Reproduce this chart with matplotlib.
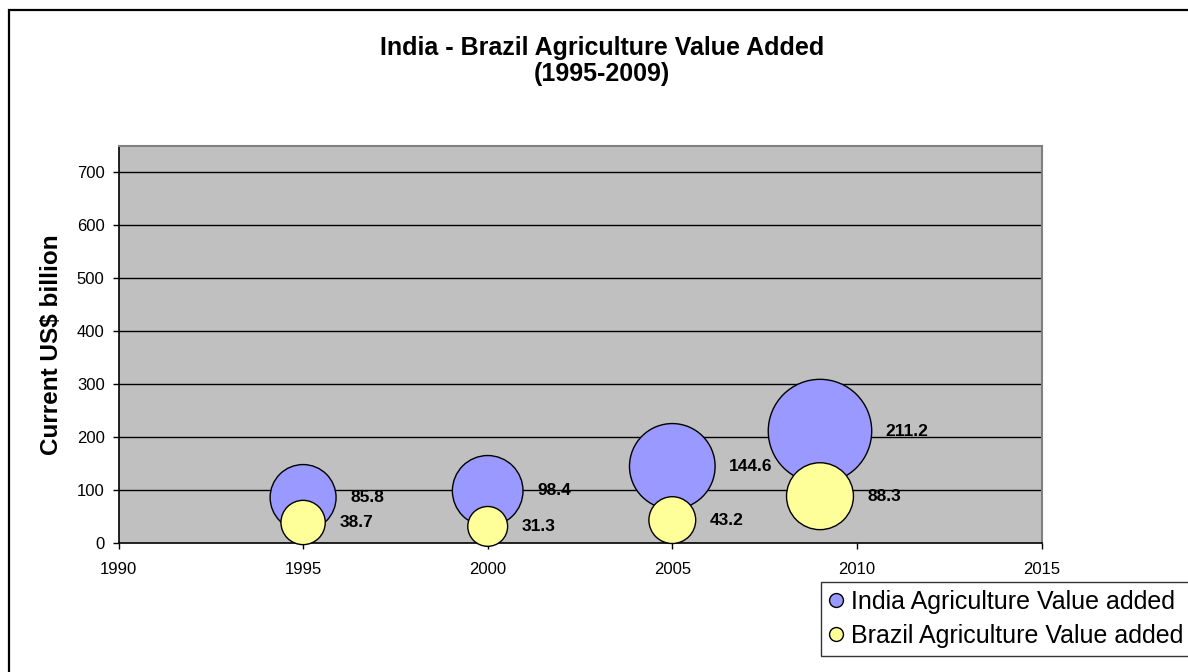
import matplotlib
matplotlib.use("Agg")
import matplotlib.pyplot as plt
from matplotlib.lines import Line2D
from matplotlib.patches import Rectangle
import numpy as np

plt.rcParams['font.family'] = ['Liberation Sans', 'DejaVu Sans']

# Agriculture value added, current US$ billion
years = [1995, 2000, 2005, 2009]
india = [85.8, 98.4, 144.6, 211.2]
brazil = [38.7, 31.3, 43.2, 88.3]
series_names = ["India Agriculture Value added", "Brazil Agriculture Value added"]
y_ticks = [0, 100, 200, 300, 400, 500, 600, 700]
x_ticks = [1990, 1995, 2000, 2005, 2010, 2015]

INDIA_COLOR = "#9999FF"
BRAZIL_COLOR = "#FFFF99"
PLOT_BG = "#C0C0C0"

DPI = 100
W, H = 1188, 672
fig = plt.figure(figsize=(W / DPI, H / DPI), dpi=DPI)
fig.patch.set_facecolor("white")

# outer chart frame (runs off the right and bottom edges)
fig.patches.append(Rectangle((9 / W, 1 - 10 / H - 1.5), 1.5, 1.5,
                             transform=fig.transFigure, fill=False,
                             edgecolor="black", linewidth=1.6, zorder=0))

left, right = 118.5 / W, 1041.5 / W
bottom, top = 1 - 543 / H, 1 - 145.5 / H
ax = fig.add_axes([left, bottom, right - left, top - bottom])
ax.set_facecolor(PLOT_BG)
ax.set_xlim(1990, 2015)
ax.set_ylim(0, 750)
ax.set_xticks(x_ticks)
ax.set_yticks(y_ticks)

for y in y_ticks[1:]:
    ax.axhline(y, color="black", linewidth=1.0, zorder=1)

# bubble area proportional to value; radius in pixels = k * sqrt(value)
K_PX = 3.56


def bubble_size(vals):
    r_px = K_PX * np.sqrt(np.asarray(vals))
    d_pt = 2 * r_px * 72.0 / DPI
    return d_pt ** 2, r_px


def draw_series(vals, color, z):
    s, r_px = bubble_size(vals)
    ax.scatter(years, vals, s=s, color=color, edgecolors="black",
               linewidths=1.0, zorder=z, clip_on=False)
    for x, v, r in zip(years, vals, r_px):
        ax.annotate(f"{v:.1f}", xy=(x, v), xytext=((r + 14) * 72.0 / DPI, 0),
                    textcoords="offset points", ha="left", va="center",
                    fontsize=12.5, fontweight="bold", zorder=z + 5)


draw_series(india, INDIA_COLOR, 3)
draw_series(brazil, BRAZIL_COLOR, 4)

for side in ("top", "right"):
    ax.spines[side].set_color("#808080")
    ax.spines[side].set_linewidth(1.5)
for side in ("left", "bottom"):
    ax.spines[side].set_color("black")
    ax.spines[side].set_linewidth(1.2)

ax.tick_params(axis="both", direction="out", length=4, width=1, color="black",
               labelsize=12)
ax.tick_params(axis="y", pad=6)
ax.tick_params(axis="x", pad=10)

ax.set_ylabel("Current US$ billion", fontsize=17.5, fontweight="bold", labelpad=10)

fig.text(0.5065, 1 - 61 / H, "India - Brazil Agriculture Value Added\n(1995-2009)",
         ha="center", va="center", fontsize=18, fontweight="bold",
         linespacing=1.15)

handles = [
    Line2D([], [], linestyle="none", marker="o", markersize=10,
           markerfacecolor=INDIA_COLOR, markeredgecolor="black", markeredgewidth=1),
    Line2D([], [], linestyle="none", marker="o", markersize=10,
           markerfacecolor=BRAZIL_COLOR, markeredgecolor="black", markeredgewidth=1),
]
leg = fig.legend(handles, series_names, loc="upper left",
                 bbox_to_anchor=(821 / W, 1 - 653 / H, 400 / W, 71 / H),
                 bbox_transform=fig.transFigure, mode="expand",
                 fontsize=18, frameon=True, fancybox=False, borderaxespad=0,
                 handlelength=0.6, handletextpad=0.3, borderpad=0.3,
                 labelspacing=0.42)
leg.get_frame().set_edgecolor("black")
leg.get_frame().set_linewidth(1.0)

fig.savefig("out.png", dpi=DPI)
